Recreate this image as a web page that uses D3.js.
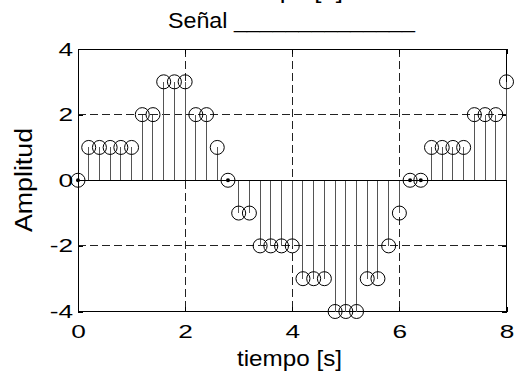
<!DOCTYPE html>
<html>
<head>
<meta charset="utf-8">
<script src="https://cdn.jsdelivr.net/npm/d3@7"></script>
<style>
  body { margin: 0; background: #fff; }
  svg { display: block; font-family: "Liberation Sans", Arial, Helvetica, sans-serif; }
</style>
</head>
<body>
<svg id="chart" width="517" height="372"></svg>
<script>
// Discrete-time samples of the signal
const sampleTimes = [0, 0.2, 0.4, 0.6, 0.8, 1.0, 1.2, 1.4, 1.6, 1.8, 2.0,
                     2.2, 2.4, 2.6, 2.8, 3.0, 3.2, 3.4, 3.6, 3.8, 4.0,
                     4.2, 4.4, 4.6, 4.8, 5.0, 5.2, 5.4, 5.6, 5.8, 6.0,
                     6.2, 6.4, 6.6, 6.8, 7.0, 7.2, 7.4, 7.6, 7.8, 8.0];
const amplitudes  = [0, 1, 1, 1, 1, 1, 2, 2, 3, 3, 3,
                     2, 2, 1, 0, -1, -1, -2, -2, -2, -2,
                     -3, -3, -3, -4, -4, -4, -3, -3, -2, -1,
                     0, 0, 1, 1, 1, 1, 2, 2, 2, 3];
const xTicks = [0, 2, 4, 6, 8];
const yTicks = [-4, -2, 0, 2, 4];
const xGrid = [2, 4, 6];
const yGrid = [-2, 2];
const titleTop = "Comp x[n]";
const titleMain = "Señal ______________";
const xLabel = "tiempo [s]";
const yLabel = "Amplitud";

const box = { left: 78, right: 506.5, top: 49, bottom: 311.5 };
const svg = d3.select("#chart");

const x = d3.scaleLinear().domain([0, 8]).range([box.left, box.right]);
const y = d3.scaleLinear().domain([-4, 4]).range([box.bottom, box.top]);

// Grid
const grid = svg.append("g").attr("stroke", "#222").attr("stroke-width", 1)
  .attr("stroke-dasharray", "8,4").attr("shape-rendering", "crispEdges");
grid.selectAll("line.vx").data(xGrid).join("line")
  .attr("x1", d => x(d)).attr("x2", d => x(d))
  .attr("y1", box.top).attr("y2", box.bottom);
grid.selectAll("line.hy").data(yGrid).join("line")
  .attr("x1", box.left).attr("x2", box.right)
  .attr("y1", d => y(d)).attr("y2", d => y(d));

// Axes (ticks pointing inward), plain hyphen for negatives
const tickFont = 19, tickStretch = 1.38;
const plain = d => String(d);
function styleTicks(g, labelled) {
  g.select(".domain").remove();
  g.selectAll(".tick line").attr("stroke", "#000").attr("shape-rendering", "crispEdges");
  g.selectAll(".tick text")
    .attr("fill", "#000")
    .style("font-size", tickFont + "px")
    .attr("transform", `scale(${tickStretch},1)`);
  if (!labelled) g.selectAll(".tick text").remove();
}
const bottomAxis = svg.append("g").attr("transform", `translate(0,${box.bottom})`)
  .call(d3.axisBottom(x).tickValues(xTicks).tickFormat(plain)
    .tickSizeInner(-5).tickSizeOuter(0).tickPadding(13));
styleTicks(bottomAxis, true);

const leftAxis = svg.append("g").attr("transform", `translate(${box.left},0)`)
  .call(d3.axisLeft(y).tickValues(yTicks).tickFormat(plain)
    .tickSizeInner(-5).tickSizeOuter(0).tickPadding(5));
styleTicks(leftAxis, true);
leftAxis.selectAll(".tick text").attr("x", -5 / tickStretch);

const topAxis = svg.append("g").attr("transform", `translate(0,${box.top})`)
  .call(d3.axisTop(x).tickValues(xTicks).tickSizeInner(-5).tickSizeOuter(0));
styleTicks(topAxis, false);

const rightAxis = svg.append("g").attr("transform", `translate(${box.right},0)`)
  .call(d3.axisRight(y).tickValues(yTicks).tickSizeInner(-5).tickSizeOuter(0));
styleTicks(rightAxis, false);

// Axes box
svg.append("rect")
  .attr("x", box.left).attr("y", box.top)
  .attr("width", box.right - box.left).attr("height", box.bottom - box.top)
  .attr("fill", "none").attr("stroke", "#000").attr("stroke-width", 1)
  .attr("shape-rendering", "crispEdges");

// Stem plot
const samples = sampleTimes.map((t, i) => ({ t, v: amplitudes[i] }));

svg.append("g").attr("stroke", "#555").attr("stroke-width", 1).attr("shape-rendering", "crispEdges")
  .selectAll("line").data(samples.filter(d => d.v !== 0)).join("line")
  .attr("x1", d => x(d.t)).attr("x2", d => x(d.t))
  .attr("y1", y(0)).attr("y2", d => y(d.v));

svg.append("line")
  .attr("x1", x(0)).attr("x2", x(8)).attr("y1", y(0)).attr("y2", y(0))
  .attr("stroke", "#000").attr("stroke-width", 1).attr("shape-rendering", "crispEdges");

svg.append("g")
  .selectAll("circle.dot").data(samples.filter(d => d.v === 0)).join("circle")
  .attr("cx", d => x(d.t)).attr("cy", d => y(d.v)).attr("r", 2).attr("fill", "#000");

svg.append("g").attr("fill", "none").attr("stroke", "#000").attr("stroke-width", 1)
  .selectAll("circle").data(samples).join("circle")
  .attr("cx", d => x(d.t)).attr("cy", d => y(d.v)).attr("r", 7);

// Titles and labels
svg.append("text").attr("x", 225).attr("y", -2.5)
  .style("font-size", "22px").attr("textLength", 118).attr("lengthAdjust", "spacingAndGlyphs")
  .text(titleTop);
svg.append("text").attr("x", 168).attr("y", 28)
  .style("font-size", "22px").attr("textLength", 247).attr("lengthAdjust", "spacingAndGlyphs")
  .text(titleMain);
svg.append("text").attr("x", 237).attr("y", 366)
  .style("font-size", "22px").attr("textLength", 105).attr("lengthAdjust", "spacingAndGlyphs")
  .text(xLabel);
svg.append("text").attr("transform", "translate(31.5,232) rotate(-90)")
  .style("font-size", "23px").attr("textLength", 104).attr("lengthAdjust", "spacingAndGlyphs")
  .text(yLabel);
</script>
</body>
</html>
